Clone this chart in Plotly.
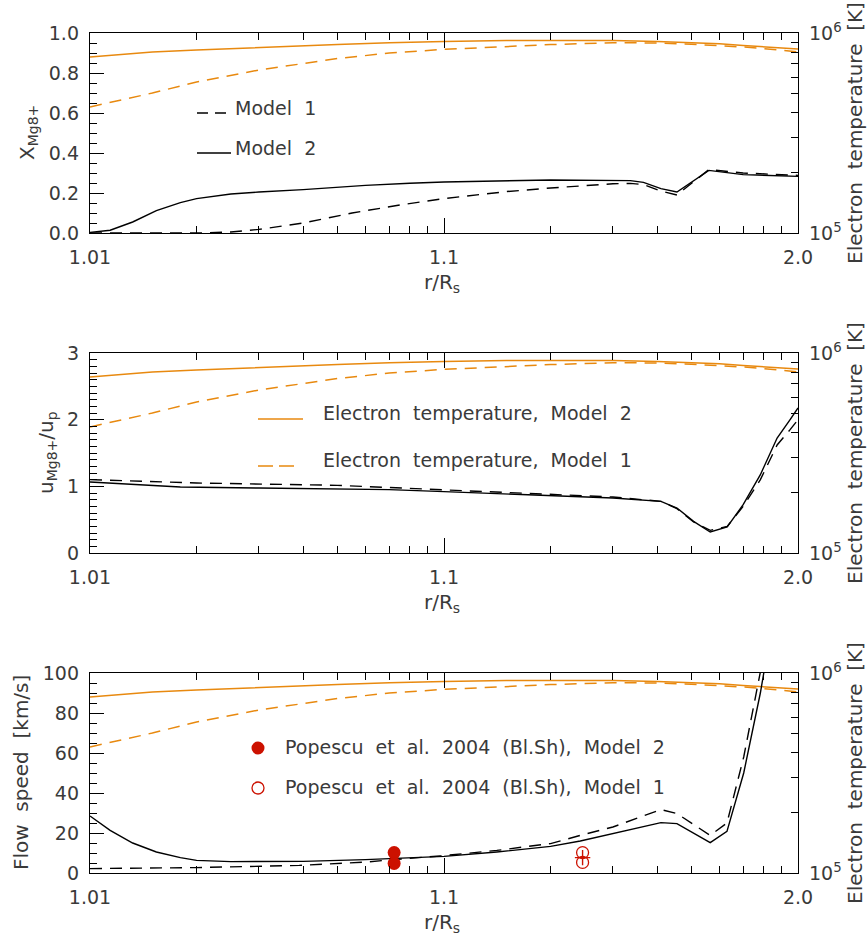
import numpy as np
import plotly.graph_objects as go

# ------------------------------------------------------------------ data
# electron temperature [K] (same in all three panels)
T_R = [1.01, 1.015, 1.02, 1.03, 1.05, 1.07, 1.1, 1.15, 1.2, 1.3, 1.4, 1.5, 1.6, 1.7, 1.8, 1.9, 2.0]
TE_MODEL2 = [7.59e5, 8.04e5, 8.22e5, 8.47e5, 8.75e5, 8.93e5, 9.08e5, 9.16e5, 9.18e5,
             9.16e5, 9.08e5, 8.95e5, 8.83e5, 8.67e5, 8.53e5, 8.41e5, 8.32e5]
TE_MODEL1 = [4.27e5, 5.01e5, 5.69e5, 6.53e5, 7.45e5, 7.94e5, 8.28e5, 8.55e5, 8.75e5,
             8.95e5, 8.91e5, 8.79e5, 8.67e5, 8.51e5, 8.36e5, 8.20e5, 8.04e5]

# panel 1: X_Mg8+
XM_R2 = [1.01, 1.0114, 1.0132, 1.0154, 1.018, 1.02, 1.025, 1.03, 1.04, 1.06, 1.08, 1.1,
         1.2, 1.3, 1.336, 1.366, 1.41, 1.455, 1.56, 1.7, 1.85, 2.0]
XM_MODEL2 = [0.003, 0.014, 0.055, 0.112, 0.152, 0.172, 0.195, 0.205, 0.217, 0.238, 0.249, 0.255,
             0.265, 0.265, 0.262, 0.253, 0.222, 0.205, 0.313, 0.292, 0.287, 0.283]
XM_R1 = [1.01, 1.02, 1.025, 1.03, 1.04, 1.055, 1.075, 1.1, 1.15, 1.2, 1.3, 1.336, 1.366,
         1.41, 1.455, 1.56, 1.7, 1.85, 2.0]
XM_MODEL1 = [0.0, 0.0, 0.005, 0.018, 0.05, 0.10, 0.14, 0.172, 0.207, 0.225, 0.246, 0.248, 0.242,
             0.21, 0.19, 0.317, 0.30, 0.293, 0.288]

# panel 2: u_Mg8+/u_p
U_R2 = [1.01, 1.0132, 1.018, 1.03, 1.05, 1.07, 1.1, 1.1755, 1.3, 1.41, 1.455, 1.507, 1.565,
        1.631, 1.70, 1.783, 1.873, 1.95, 2.0]
U_MODEL2 = [1.065, 1.03, 0.99, 0.975, 0.965, 0.95, 0.92, 0.875, 0.825, 0.775, 0.675, 0.475, 0.315,
            0.39, 0.725, 1.175, 1.725, 2.0, 2.175]
U_R1 = [1.01, 1.02, 1.05, 1.1, 1.1755, 1.3, 1.41, 1.455, 1.507, 1.565, 1.631, 1.70, 1.783,
        1.873, 1.95, 2.0]
U_MODEL1 = [1.10, 1.05, 1.015, 0.95, 0.90, 0.84, 0.775, 0.665, 0.465, 0.34, 0.40, 0.70, 1.10,
            1.62, 1.85, 2.0]

# panel 3: flow speed [km/s]
V_R2 = [1.01, 1.0114, 1.0132, 1.0154, 1.018, 1.02, 1.025, 1.04, 1.06, 1.072, 1.1, 1.141, 1.2,
        1.2427, 1.3, 1.41, 1.455, 1.565, 1.630, 1.7025, 1.7828, 1.8726, 2.0]
V_MODEL2 = [28.5, 21.3, 15.0, 10.5, 7.7, 6.3, 5.7, 5.8, 6.7, 7.2, 8.3, 10.5, 13.3,
            16.0, 19.7, 25.2, 24.7, 15.2, 20.8, 50.0, 90.0, 150.0, 200.0]
V_R1 = [1.01, 1.02, 1.039, 1.0605, 1.072, 1.0975, 1.141, 1.2, 1.2427, 1.3, 1.41, 1.455,
        1.565, 1.630, 1.7025, 1.7828, 1.8726, 2.0]
V_MODEL1 = [2.2, 2.7, 3.8, 5.5, 6.7, 8.5, 11.3, 14.7, 18.8, 23.0, 31.7, 29.7,
            18.8, 25.0, 58.0, 100.5, 160.0, 210.0]

# observations (Popescu et al. 2004, Bl.Sh)
POP_R_M2 = [1.0723, 1.0723]
POP_V_M2 = [10.2, 4.8]
POP_R_M1 = [1.2463, 1.2463]
POP_V_M1 = [10.2, 5.3]
POP_MID_R = [1.2463]
POP_MID_V = [7.7]

# axis ticks
X_TICK_R = [1.01, 1.1, 2.0]
X_TICK_TEXT = ["1.01", "1.1", "2.0"]
X_MINOR_R = [1.02, 1.03, 1.04, 1.05, 1.06, 1.07, 1.08, 1.09,
             1.2, 1.3, 1.4, 1.5, 1.6, 1.7, 1.8, 1.9]
T_TICKS = [1e5, 1e6]
T_TICK_TEXT = ["10<sup>5</sup>", "10<sup>6</sup>"]
T_MINOR = [2e5, 3e5, 4e5, 5e5, 6e5, 7e5, 8e5, 9e5]

# ------------------------------------------------------------------ style
W, H = 868, 940
ML, MR, MT, MB = 90, 70, 33, 67
PW, PH = W - ML - MR, H - MT - MB
ORANGE = "#E8890F"
RED = "#CC1100"
TXT = "#3a3a3a"
FAM = "DejaVu Sans"


def px(x):
    return (x - ML) / PW


def py(y):
    return (H - MB - y) / PH


def wide(s):
    return s.replace(" ", " \u00a0")


def rm1(a):
    return (np.asarray(a, dtype=float) - 1.0).tolist()


DOMAINS = [[1 - 200 / PH, 1.0], [1 - 520 / PH, 1 - 320 / PH], [0.0, 200 / PH]]
DATA_AX = [
    dict(range=[0, 1], dtick=0.2, tick0=0, tickformat=".1f", minor_dtick=0.05),
    dict(range=[0, 3], dtick=1, tick0=0, tickformat="d", minor_dtick=0.1),
    dict(range=[0, 100], dtick=20, tick0=0, tickformat="d", minor_dtick=5),
]

fig = go.Figure()
layout = dict(
    width=W, height=H, margin=dict(l=ML, r=MR, t=MT, b=MB, pad=0),
    paper_bgcolor="white", plot_bgcolor="white", showlegend=False,
    font=dict(family=FAM, size=19, color=TXT),
)

panel_series = [
    [(XM_R1, XM_MODEL1, "dash"), (XM_R2, XM_MODEL2, "solid")],
    [(U_R1, U_MODEL1, "dash"), (U_R2, U_MODEL2, "solid")],
    [(V_R1, V_MODEL1, "dash"), (V_R2, V_MODEL2, "solid")],
]

for k in range(3):
    xn = "x" if k == 0 else f"x{k + 1}"
    tn = "y" if k == 0 else f"y{2 * k + 1}"       # temperature (base, right)
    dn = f"y{2 * k + 2}"                            # data (overlay, left)
    xkey = "xaxis" if k == 0 else f"xaxis{k + 1}"
    tkey = "yaxis" if k == 0 else f"yaxis{2 * k + 1}"
    dkey = f"yaxis{2 * k + 2}"

    layout[xkey] = dict(
        type="log", range=[-2, 0], anchor=tn,
        tickmode="array", tickvals=rm1(X_TICK_R), ticktext=X_TICK_TEXT,
        ticks="inside", ticklen=15, tickwidth=1.2, tickcolor="black",
        minor=dict(tickmode="array", tickvals=rm1(X_MINOR_R), ticks="inside",
                   ticklen=7, tickwidth=1.1, tickcolor="black"),
        showline=True, linecolor="black", linewidth=1.4, mirror="ticks",
        showgrid=False, zeroline=False, ticklabelstandoff=7,
        tickfont=dict(family=FAM, size=19, color=TXT),
    )
    layout[tkey] = dict(
        domain=DOMAINS[k], anchor=xn, side="right", type="log", range=[5, 6],
        tickmode="array", tickvals=T_TICKS, ticktext=T_TICK_TEXT,
        ticks="inside", ticklen=14, tickwidth=1.2, tickcolor="black",
        minor=dict(tickmode="array", tickvals=T_MINOR, ticks="inside",
                   ticklen=7, tickwidth=1.1, tickcolor="black"),
        showline=True, linecolor="black", linewidth=1.4,
        showgrid=False, zeroline=False, ticklabelstandoff=6,
        tickfont=dict(family=FAM, size=19, color=TXT),
    )
    da = DATA_AX[k]
    layout[dkey] = dict(
        overlaying=tn, anchor=xn, side="left", range=da["range"],
        tickmode="linear", tick0=da["tick0"], dtick=da["dtick"], tickformat=da["tickformat"],
        ticks="inside", ticklen=14, tickwidth=1.2, tickcolor="black",
        minor=dict(dtick=da["minor_dtick"], ticks="inside", ticklen=7,
                   tickwidth=1.1, tickcolor="black"),
        showline=True, linecolor="black", linewidth=1.4,
        showgrid=False, zeroline=False, ticklabelstandoff=6,
        tickfont=dict(family=FAM, size=19, color=TXT),
    )

    # temperature curves (base subplot, drawn underneath)
    fig.add_trace(go.Scatter(x=rm1(T_R), y=TE_MODEL1, xaxis=xn, yaxis=tn, mode="lines",
                             line=dict(color=ORANGE, width=1.5, dash="12px,8px"),
                             hoverinfo="skip"))
    fig.add_trace(go.Scatter(x=rm1(T_R), y=TE_MODEL2, xaxis=xn, yaxis=tn, mode="lines",
                             line=dict(color=ORANGE, width=1.5), hoverinfo="skip"))
    # model curves
    for rr, vv, dsh in panel_series[k]:
        fig.add_trace(go.Scatter(x=rm1(rr), y=vv, xaxis=xn, yaxis=dn, mode="lines",
                                 line=dict(color="black", width=1.4,
                                           dash="12px,8px" if dsh == "dash" else "solid"),
                                 hoverinfo="skip"))

# observations in panel 3
fig.add_trace(go.Scatter(x=rm1(POP_R_M2), y=POP_V_M2, xaxis="x3", yaxis="y6", mode="markers",
                         marker=dict(symbol="circle", size=13, color=RED,
                                     line=dict(width=0)), hoverinfo="skip"))
fig.add_trace(go.Scatter(x=rm1(POP_R_M1), y=POP_V_M1, xaxis="x3", yaxis="y6", mode="markers",
                         marker=dict(symbol="circle-open", size=12, color=RED,
                                     line=dict(width=1.3, color=RED)), hoverinfo="skip"))
fig.add_trace(go.Scatter(x=rm1(POP_MID_R), y=POP_MID_V, xaxis="x3", yaxis="y6", mode="markers",
                         marker=dict(symbol="cross-thin-open", size=11, color=RED,
                                     line=dict(width=1.4, color=RED)), hoverinfo="skip"))

# ------------------------------------------------------------------ annotations
ann = []


def text(x, y, s, size=19, angle=0, xanchor="center"):
    ann.append(dict(x=px(x), y=py(y), xref="paper", yref="paper", text=s, showarrow=False,
                    textangle=angle, xanchor=xanchor, yanchor="middle",
                    font=dict(family=FAM, size=size, color=TXT)))


panel_mid = [133, 453, 773]
panel_bot = [233, 553, 873]
left_titles = ["X<sub>Mg8+</sub>", "u<sub>Mg8+</sub>/u<sub>p</sub>", wide("Flow speed [km/s]")]
left_x = [28, 47, 21]
for k in range(3):
    text(442, panel_bot[k] + 50, "r/R<sub>s</sub>", size=20)
    text(left_x[k], panel_mid[k], left_titles[k], size=20, angle=-90)
    text(855, panel_mid[k], wide("Electron temperature [K]"), size=20, angle=-90)

# legend panel 1
text(233, 108, wide("Model 1"), xanchor="left")
text(233, 148, wide("Model 2"), xanchor="left")
# legend panel 2
text(321, 413, wide("Electron temperature, Model 2"), xanchor="left")
text(321, 460, wide("Electron temperature, Model 1"), xanchor="left")
# legend panel 3
text(283, 747, wide("Popescu et al. 2004 (Bl.Sh), Model 2"), xanchor="left")
text(283, 787, wide("Popescu et al. 2004 (Bl.Sh), Model 1"), xanchor="left")

shapes = [
    dict(type="line", xref="paper", yref="paper", x0=px(197), x1=px(231), y0=py(113), y1=py(113),
         line=dict(color="black", width=1.4, dash="11px,7px")),
    dict(type="line", xref="paper", yref="paper", x0=px(197), x1=px(231), y0=py(153), y1=py(153),
         line=dict(color="black", width=1.4)),
    dict(type="line", xref="paper", yref="paper", x0=px(258), x1=px(303), y0=py(419), y1=py(419),
         line=dict(color=ORANGE, width=1.5)),
    dict(type="line", xref="paper", yref="paper", x0=px(258), x1=px(294), y0=py(466), y1=py(466),
         line=dict(color=ORANGE, width=1.5, dash="15px,6px")),
    dict(type="circle", xref="paper", yref="paper", xsizemode="pixel", ysizemode="pixel",
         xanchor=px(258), yanchor=py(748), x0=-6.5, x1=6.5, y0=-6.5, y1=6.5,
         fillcolor=RED, line=dict(width=0)),
    dict(type="circle", xref="paper", yref="paper", xsizemode="pixel", ysizemode="pixel",
         xanchor=px(258), yanchor=py(788), x0=-6, x1=6, y0=-6, y1=6,
         fillcolor="rgba(0,0,0,0)", line=dict(color=RED, width=1.3)),
]

layout["annotations"] = ann
layout["shapes"] = shapes
fig.update_layout(**layout)
fig.write_html("out.html")
